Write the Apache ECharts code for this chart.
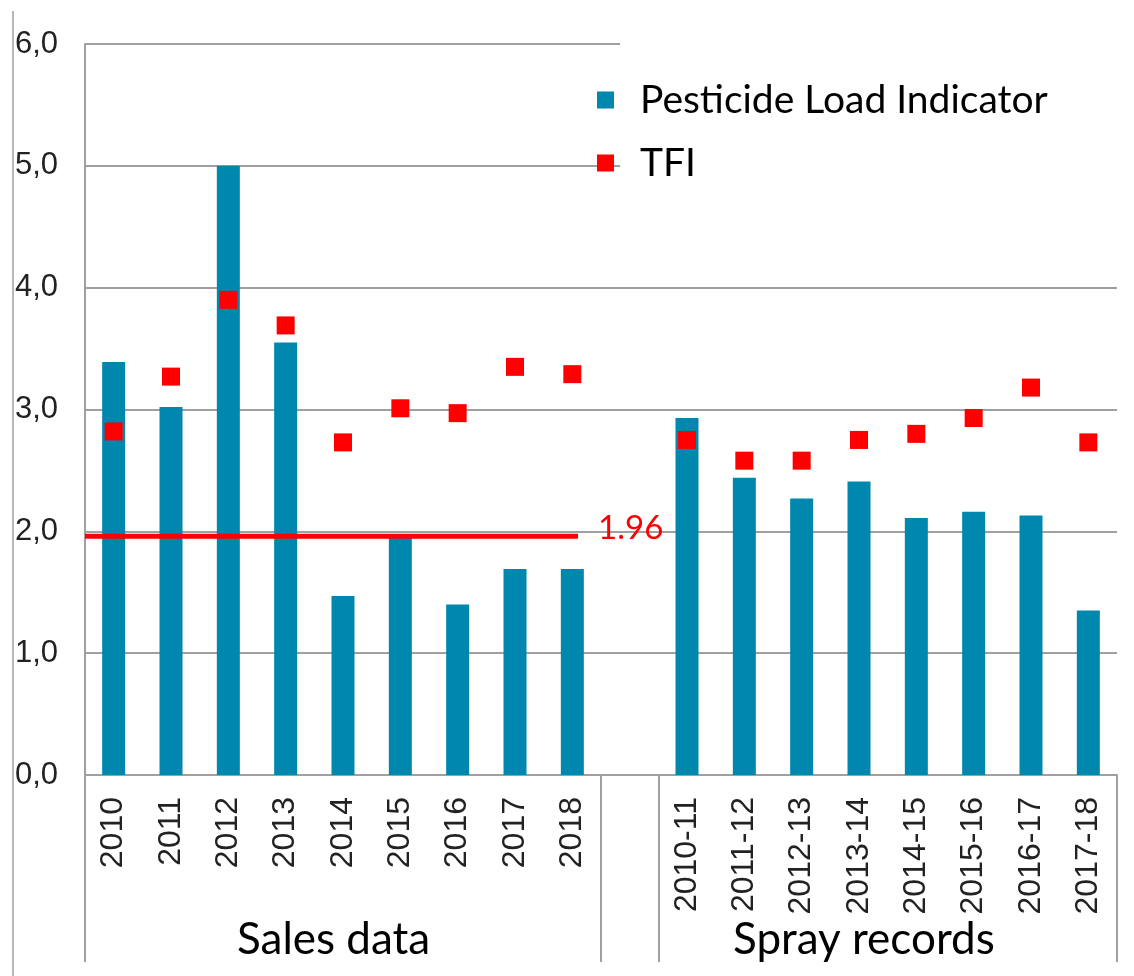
<!DOCTYPE html>
<html>
<head>
<meta charset="utf-8">
<script src="https://cdn.jsdelivr.net/npm/echarts@6/dist/echarts.min.js"></script>
<style>
  html, body { margin: 0; padding: 0; background: #fff; }
  #main { width: 1134px; height: 976px; }
</style>
</head>
<body>
<div id="main"></div>
<script>
// sales data years, then one empty slot, then spray record seasons
var salesYears = ['2010', '2011', '2012', '2013', '2014', '2015', '2016', '2017', '2018'];
var sprayYears = ['2010-11', '2011-12', '2012-13', '2013-14', '2014-15', '2015-16', '2016-17', '2017-18'];

var salesPLI = [3.39, 3.02, 5.0, 3.55, 1.47, 1.95, 1.40, 1.69, 1.69];
var salesTFI = [2.82, 3.27, 3.90, 3.69, 2.73, 3.01, 2.97, 3.35, 3.29];
var sprayPLI = [2.93, 2.44, 2.27, 2.41, 2.11, 2.16, 2.13, 1.35];
var sprayTFI = [2.75, 2.58, 2.58, 2.75, 2.80, 2.93, 3.18, 2.73];

// reference line (sales average), spans from first slot to end of 2018
var refValue = 1.96;
var refSpan = [0, 8.6];

var yTicks = [0, 1, 2, 3, 4, 5, 6];

var categories = salesYears.concat(['']).concat(sprayYears);
var pliData = salesPLI.concat([null]).concat(sprayPLI);
var tfiData = salesTFI.concat([null]).concat(sprayTFI);
var refData = refSpan.map(function (x) { return [x, refValue]; });

var gridCol = '#a0a0a0';
var chart = echarts.init(document.getElementById('main'));

var option = {
  backgroundColor: '#fff',
  animation: false,
  grid: { left: 85, right: 17, top: 44, bottom: 201 },
  legend: {
    orient: 'vertical',
    left: 597,
    top: 78,
    padding: 0,
    itemGap: 19,
    itemWidth: 17,
    itemHeight: 17,
    data: [
      { name: 'Pesticide Load Indicator', icon: 'rect' },
      { name: 'TFI', icon: 'rect' }
    ],
    textStyle: {
      fontFamily: 'Lato',
      fontSize: 39,
      color: '#000',
      lineHeight: 44,
      padding: [0, 0, 0, 21]
    }
  },
  xAxis: [{
    type: 'category',
    data: categories,
    axisLine: { lineStyle: { color: gridCol, width: 2 } },
    axisTick: {
      show: true,
      length: 187,
      interval: function (i) { return i === 0 || i === salesYears.length || i === salesYears.length + 1; },
      lineStyle: { color: gridCol, width: 2 }
    },
    axisLabel: {
      interval: 0,
      rotate: 90,
      margin: 22,
      fontFamily: 'Liberation Sans',
      fontSize: 32,
      color: '#222'
    }
  }, {
    type: 'value',
    min: 0,
    max: categories.length,
    show: false
  }],
  yAxis: {
    type: 'value',
    min: yTicks[0],
    max: yTicks[yTicks.length - 1],
    interval: 1,
    axisLine: { show: true, lineStyle: { color: gridCol, width: 2 } },
    axisTick: { show: false },
    splitLine: { lineStyle: { color: gridCol, width: 2 } },
    axisLabel: {
      margin: 27,
      fontFamily: 'Liberation Sans',
      fontSize: 31,
      color: '#222',
      formatter: function (v) { return v.toFixed(1).replace('.', ','); }
    }
  },
  graphic: [
    { type: 'line', shape: { x1: 13, y1: 11, x2: 13, y2: 976 }, style: { stroke: gridCol, lineWidth: 1.5 } },
    // white legend box hides the top grid lines on the right
    { type: 'rect', shape: { x: 620, y: 30, width: 514, height: 160 }, style: { fill: '#fff' }, z: 1 },
    { type: 'text', left: 237, top: 918, style: { text: 'Sales data', font: '44px Lato', fill: '#000' } },
    { type: 'text', left: 733, top: 918, style: { text: 'Spray records', font: '44px Lato', fill: '#000' } }
  ],
  series: [{
    name: 'Pesticide Load Indicator',
    type: 'bar',
    data: pliData,
    barWidth: 23,
    itemStyle: { color: '#0087ad' },
    z: 2
  }, {
    name: 'TFI',
    type: 'scatter',
    data: tfiData,
    symbol: 'rect',
    symbolSize: 18,
    itemStyle: { color: '#ff0000', opacity: 1 },
    z: 4
  }, {
    name: 'ref',
    type: 'line',
    xAxisIndex: 1,
    data: refData,
    symbol: 'none',
    lineStyle: { color: '#ff0000', width: 5 },
    z: 3,
    endLabel: {
      show: true,
      formatter: String(refValue),
      color: '#ff0000',
      fontFamily: 'Lato',
      fontSize: 33,
      distance: 20,
      offset: [0, -8]
    }
  }]
};

chart.setOption(option);
</script>
</body>
</html>
